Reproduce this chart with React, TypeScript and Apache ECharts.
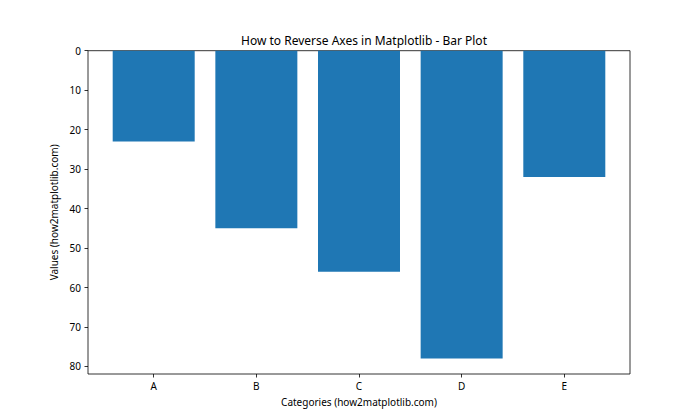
import React, { useEffect, useRef } from "react";
import * as echarts from "echarts";

const categories = ["A", "B", "C", "D", "E"];
const values = [23, 45, 56, 78, 32];
const yTicks = [0, 10, 20, 30, 40, 50, 60, 70, 80];

const FONT = "Noto Sans";

export default function App() {
  const ref = useRef<HTMLDivElement>(null);
  useEffect(() => {
    if (!ref.current) return;
    const chart = echarts.init(ref.current, null, { renderer: "svg" });
    const positions = categories.map((_, i) => i);
    chart.setOption({
      animation: false,
      backgroundColor: "#ffffff",
      title: {
        text: "How to Reverse Axes in Matplotlib - Bar Plot",
        left: 359,
        textAlign: "center",
        top: 29,
        textStyle: { fontFamily: FONT, fontSize: 12, fontWeight: "normal", color: "#000" },
      },
      grid: {
        left: 88,
        right: 70,
        top: 50.7,
        bottom: 46,
        show: true,
        borderColor: "#000",
        borderWidth: 0.8,
        backgroundColor: "transparent",
      },
      xAxis: {
        type: "value",
        min: -0.64,
        max: 4.64,
        name: "Categories (how2matplotlib.com)",
        nameLocation: "middle",
        nameGap: 23,
        nameTextStyle: { fontFamily: FONT, fontSize: 10, color: "#000" },
        axisLine: { show: false, onZero: false },
        splitLine: { show: false },
        axisTick: {
          show: true,
          inside: false,
          length: 3.5,
          lineStyle: { color: "#000", width: 0.8 },
          customValues: positions,
        },
        axisLabel: {
          margin: 7,
          fontFamily: FONT,
          fontSize: 10,
          color: "#000",
          customValues: positions,
          formatter: (v: number) => categories[Math.round(v)] ?? "",
        },
      },
      yAxis: {
        type: "value",
        inverse: true,
        min: 0,
        max: 81.9,
        name: "Values (how2matplotlib.com)",
        nameLocation: "middle",
        nameGap: 24,
        nameTextStyle: { fontFamily: FONT, fontSize: 10, color: "#000" },
        axisLine: { show: false, onZero: false },
        splitLine: { show: false },
        axisTick: {
          show: true,
          inside: false,
          length: 3.5,
          lineStyle: { color: "#000", width: 0.8 },
          customValues: yTicks,
        },
        axisLabel: {
          margin: 7,
          fontFamily: FONT,
          fontSize: 10,
          color: "#000",
          customValues: yTicks,
        },
      },
      series: [
        {
          type: "bar",
          barWidth: 82,
          itemStyle: { color: "#1f77b4" },
          data: values.map((v, i) => [i, v]),
        },
      ],
    });
    return () => chart.dispose();
  }, []);
  return <div ref={ref} style={{ width: 700, height: 420, margin: -8 }} />;
}
